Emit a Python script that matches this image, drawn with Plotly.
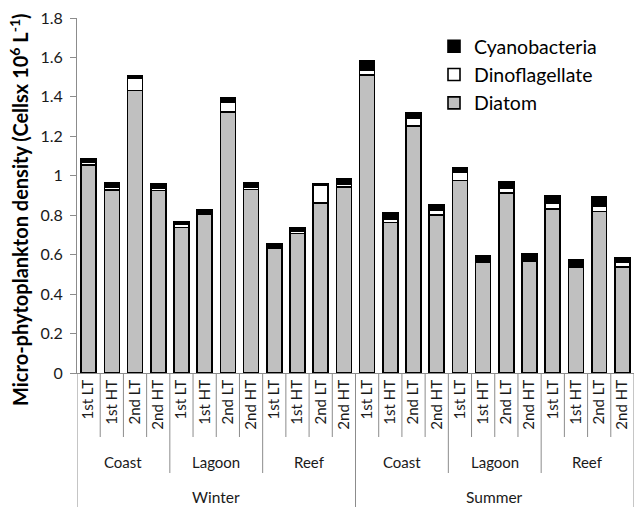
import plotly.graph_objects as go

seasons = ["Winter", "Summer"]
sites = ["Coast", "Lagoon", "Reef"]
tides = ["1st LT", "1st HT", "2nd LT", "2nd HT"]

diatom = [1.055, 0.928, 1.432, 0.925, 0.737, 0.803, 1.322, 0.931, 0.632, 0.708, 0.863, 0.943,
          1.512, 0.764, 1.253, 0.801, 0.977, 0.560, 0.914, 0.567, 0.833, 0.535, 0.818, 0.538]
dinoflagellate = [0.014, 0.013, 0.064, 0.012, 0.015, 0.003, 0.051, 0.011, 0.008, 0.012, 0.089, 0.015,
                  0.025, 0.017, 0.039, 0.022, 0.039, 0.003, 0.022, 0.008, 0.030, 0.003, 0.026, 0.023]
cyanobacteria = [0.017, 0.021, 0.012, 0.020, 0.015, 0.022, 0.024, 0.020, 0.015, 0.018, 0.008, 0.027,
                 0.046, 0.032, 0.027, 0.029, 0.022, 0.033, 0.031, 0.031, 0.038, 0.034, 0.047, 0.025]

n = len(diatom)
xs = list(range(n))
tick_text = [t for _ in seasons for _ in sites for t in tides]

FONT = "Lato"
TXT = "#1a1a1a"
line = dict(color="black", width=1.6)

fig = go.Figure()
fig.add_trace(go.Bar(x=xs, y=diatom, name="Diatom", marker=dict(color="#c0c0c0", line=line)))
fig.add_trace(go.Bar(x=xs, y=dinoflagellate, name="Dinoflagellate", marker=dict(color="white", line=line)))
fig.add_trace(go.Bar(x=xs, y=cyanobacteria, name="Cyanobacteria", marker=dict(color="black", line=line)))

L, R, T, B = 77, 2, 18, 137
PW = 636 - L - R
PH = 510 - T - B
def py(pix):
    return (510 - B - pix) / PH
def px(pix):
    return (pix - L) / PW

shapes = []
ntide = len(tides)
nsite = len(sites) * ntide
for b in range(n + 1):
    if b % nsite == 0:
        yb = py(507)
    elif b % ntide == 0:
        yb = py(473)
    else:
        yb = py(437)
    shapes.append(dict(type="line", xref="x", yref="paper", x0=b - 0.5, x1=b - 0.5, y0=0, y1=yb,
                       line=dict(color="#8c8c8c", width=1)))

annotations = []
k = 0
for s in seasons:
    for st in sites:
        annotations.append(dict(x=k * ntide + (ntide - 1) / 2, y=py(462), xref="x", yref="paper",
                                text=st, showarrow=False, font=dict(family=FONT, size=15, color=TXT),
                                yanchor="middle"))
        k += 1
for i, s in enumerate(seasons):
    annotations.append(dict(x=i * nsite + (nsite - 1) / 2, y=py(497), xref="x", yref="paper",
                            text=s, showarrow=False, font=dict(family=FONT, size=15.5, color=TXT),
                            yanchor="middle"))
annotations.append(dict(x=px(19), y=py(210), xref="paper", yref="paper",
                        text="<b>Micro-phytoplankton density (Cellsx 10<sup>6</sup> L<sup>-1</sup>)</b>",
                        textangle=-90, showarrow=False, xanchor="center", yanchor="middle",
                        font=dict(family=FONT, size=20, color="black")))

fig.update_layout(
    width=636, height=510,
    margin=dict(l=L, r=R, t=T, b=B),
    paper_bgcolor="white", plot_bgcolor="white",
    barmode="stack", bargap=0.355,
    font=dict(family=FONT, size=14, color=TXT),
    showlegend=True,
    legend=dict(x=px(434), y=py(27), xanchor="left", yanchor="top", traceorder="reversed",
                font=dict(family=FONT, size=19.5, color="black"), bgcolor="rgba(0,0,0,0)",
                itemwidth=30, tracegroupgap=0),
    xaxis=dict(range=[-0.5, n - 0.5], tickmode="array", tickvals=xs, ticktext=tick_text,
               tickangle=-90, ticks="", showline=True, linecolor="#8c8c8c", linewidth=1,
               showgrid=False, zeroline=False, tickfont=dict(family=FONT, size=15, color=TXT)),
    yaxis=dict(range=[0, 1.8], tickmode="array", tickvals=[0, 0.2, 0.4, 0.6, 0.8, 1, 1.2, 1.4, 1.6, 1.8],
               ticktext=["0", "0.2", "0.4", "0.6", "0.8", "1", "1.2", "1.4", "1.6", "1.8"],
               ticks="outside", ticklen=6, tickcolor="#8c8c8c", showline=True, linecolor="#8c8c8c",
               linewidth=1, showgrid=False, zeroline=False, ticklabelstandoff=4,
               tickfont=dict(family=FONT, size=16, color=TXT)),
    shapes=shapes,
    annotations=annotations,
)

fig.write_html("out.html")
